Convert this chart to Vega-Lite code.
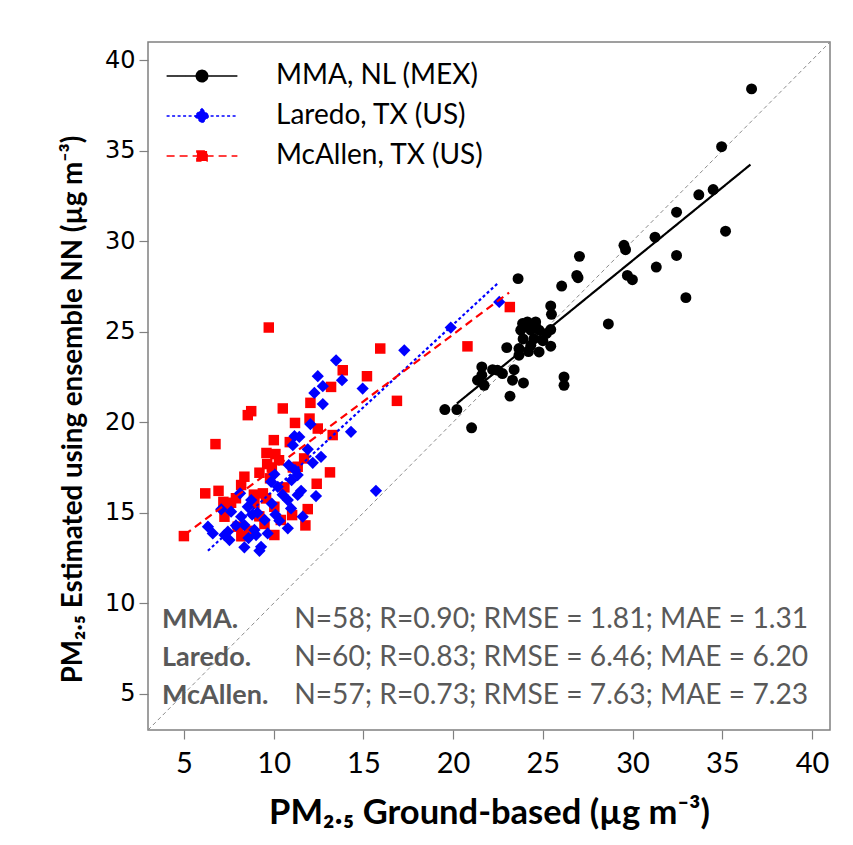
{
  "$schema": "https://vega.github.io/schema/vega-lite/v6.json",
  "width": 682,
  "height": 688,
  "autosize": "none",
  "padding": {"left": 148, "top": 42, "right": 23, "bottom": 115},
  "background": "white",
  "config": {
    "view": {"stroke": "#808080", "strokeWidth": 1.5},
    "font": "Lato",
    "axis": {"grid": false, "domain": false, "tickColor": "#808080", "tickSize": 9, "tickWidth": 1.2, "labelColor": "#000000", "titleColor": "#000000", "labelFontWeight": "normal"}
  },
  "datasets": {
    "points": [
      {"site": "MMA, NL (MEX)", "ground": 36.63, "est": 38.41},
      {"site": "MMA, NL (MEX)", "ground": 34.96, "est": 35.22},
      {"site": "MMA, NL (MEX)", "ground": 33.69, "est": 32.56},
      {"site": "MMA, NL (MEX)", "ground": 34.49, "est": 32.85},
      {"site": "MMA, NL (MEX)", "ground": 32.45, "est": 31.60},
      {"site": "MMA, NL (MEX)", "ground": 35.18, "est": 30.55},
      {"site": "MMA, NL (MEX)", "ground": 31.25, "est": 30.22},
      {"site": "MMA, NL (MEX)", "ground": 29.52, "est": 29.77},
      {"site": "MMA, NL (MEX)", "ground": 29.61, "est": 29.53},
      {"site": "MMA, NL (MEX)", "ground": 32.45, "est": 29.21},
      {"site": "MMA, NL (MEX)", "ground": 31.32, "est": 28.57},
      {"site": "MMA, NL (MEX)", "ground": 29.71, "est": 28.11},
      {"site": "MMA, NL (MEX)", "ground": 29.99, "est": 27.87},
      {"site": "MMA, NL (MEX)", "ground": 32.97, "est": 26.88},
      {"site": "MMA, NL (MEX)", "ground": 27.04, "est": 29.16},
      {"site": "MMA, NL (MEX)", "ground": 26.89, "est": 28.11},
      {"site": "MMA, NL (MEX)", "ground": 26.96, "est": 27.98},
      {"site": "MMA, NL (MEX)", "ground": 26.05, "est": 27.52},
      {"site": "MMA, NL (MEX)", "ground": 23.62, "est": 27.93},
      {"site": "MMA, NL (MEX)", "ground": 28.65, "est": 25.43},
      {"site": "MMA, NL (MEX)", "ground": 25.44, "est": 26.42},
      {"site": "MMA, NL (MEX)", "ground": 25.48, "est": 25.96},
      {"site": "MMA, NL (MEX)", "ground": 23.87, "est": 25.45},
      {"site": "MMA, NL (MEX)", "ground": 24.14, "est": 25.54},
      {"site": "MMA, NL (MEX)", "ground": 24.60, "est": 25.54},
      {"site": "MMA, NL (MEX)", "ground": 23.77, "est": 25.08},
      {"site": "MMA, NL (MEX)", "ground": 24.33, "est": 25.08},
      {"site": "MMA, NL (MEX)", "ground": 24.79, "est": 25.08},
      {"site": "MMA, NL (MEX)", "ground": 25.44, "est": 25.12},
      {"site": "MMA, NL (MEX)", "ground": 22.99, "est": 24.12},
      {"site": "MMA, NL (MEX)", "ground": 23.67, "est": 24.07},
      {"site": "MMA, NL (MEX)", "ground": 24.33, "est": 24.25},
      {"site": "MMA, NL (MEX)", "ground": 24.79, "est": 23.88},
      {"site": "MMA, NL (MEX)", "ground": 25.44, "est": 24.20},
      {"site": "MMA, NL (MEX)", "ground": 23.67, "est": 23.70},
      {"site": "MMA, NL (MEX)", "ground": 22.47, "est": 22.87},
      {"site": "MMA, NL (MEX)", "ground": 22.75, "est": 22.69},
      {"site": "MMA, NL (MEX)", "ground": 21.60, "est": 23.05},
      {"site": "MMA, NL (MEX)", "ground": 21.36, "est": 22.32},
      {"site": "MMA, NL (MEX)", "ground": 21.73, "est": 22.04},
      {"site": "MMA, NL (MEX)", "ground": 23.31, "est": 22.32},
      {"site": "MMA, NL (MEX)", "ground": 23.92, "est": 22.17},
      {"site": "MMA, NL (MEX)", "ground": 23.17, "est": 21.44},
      {"site": "MMA, NL (MEX)", "ground": 21.60, "est": 22.60},
      {"site": "MMA, NL (MEX)", "ground": 26.18, "est": 22.50},
      {"site": "MMA, NL (MEX)", "ground": 26.18, "est": 22.04},
      {"site": "MMA, NL (MEX)", "ground": 19.54, "est": 20.70},
      {"site": "MMA, NL (MEX)", "ground": 20.21, "est": 20.70},
      {"site": "MMA, NL (MEX)", "ground": 21.03, "est": 19.69},
      {"site": "MMA, NL (MEX)", "ground": 24.0, "est": 25.3},
      {"site": "MMA, NL (MEX)", "ground": 24.5, "est": 24.6},
      {"site": "MMA, NL (MEX)", "ground": 25.0, "est": 24.5},
      {"site": "MMA, NL (MEX)", "ground": 22.2, "est": 22.9},
      {"site": "MMA, NL (MEX)", "ground": 23.9, "est": 24.6},
      {"site": "MMA, NL (MEX)", "ground": 24.2, "est": 23.9},
      {"site": "MMA, NL (MEX)", "ground": 25.2, "est": 24.9},
      {"site": "MMA, NL (MEX)", "ground": 24.6, "est": 25.3},
      {"site": "MMA, NL (MEX)", "ground": 23.4, "est": 22.9},
      {"site": "McAllen, TX (US)", "ground": 23.16, "est": 26.36},
      {"site": "McAllen, TX (US)", "ground": 20.80, "est": 24.19},
      {"site": "McAllen, TX (US)", "ground": 15.94, "est": 24.07},
      {"site": "McAllen, TX (US)", "ground": 9.73, "est": 25.23},
      {"site": "McAllen, TX (US)", "ground": 13.85, "est": 22.87},
      {"site": "McAllen, TX (US)", "ground": 15.20, "est": 22.54},
      {"site": "McAllen, TX (US)", "ground": 13.20, "est": 21.95},
      {"site": "McAllen, TX (US)", "ground": 16.87, "est": 21.18},
      {"site": "McAllen, TX (US)", "ground": 12.05, "est": 21.07},
      {"site": "McAllen, TX (US)", "ground": 10.51, "est": 20.76},
      {"site": "McAllen, TX (US)", "ground": 8.75, "est": 20.61},
      {"site": "McAllen, TX (US)", "ground": 8.56, "est": 20.39},
      {"site": "McAllen, TX (US)", "ground": 11.19, "est": 19.96},
      {"site": "McAllen, TX (US)", "ground": 12.46, "est": 19.65},
      {"site": "McAllen, TX (US)", "ground": 13.29, "est": 19.29},
      {"site": "McAllen, TX (US)", "ground": 10.01, "est": 19.01},
      {"site": "McAllen, TX (US)", "ground": 6.76, "est": 18.79},
      {"site": "McAllen, TX (US)", "ground": 10.10, "est": 18.24},
      {"site": "McAllen, TX (US)", "ground": 9.64, "est": 17.69},
      {"site": "McAllen, TX (US)", "ground": 9.21, "est": 17.21},
      {"site": "McAllen, TX (US)", "ground": 11.34, "est": 17.54},
      {"site": "McAllen, TX (US)", "ground": 13.14, "est": 17.23},
      {"site": "McAllen, TX (US)", "ground": 8.37, "est": 16.99},
      {"site": "McAllen, TX (US)", "ground": 8.19, "est": 16.53},
      {"site": "McAllen, TX (US)", "ground": 6.19, "est": 16.07},
      {"site": "McAllen, TX (US)", "ground": 6.93, "est": 16.21},
      {"site": "McAllen, TX (US)", "ground": 9.40, "est": 16.07},
      {"site": "McAllen, TX (US)", "ground": 9.58, "est": 15.79},
      {"site": "McAllen, TX (US)", "ground": 7.63, "est": 15.55},
      {"site": "McAllen, TX (US)", "ground": 7.45, "est": 15.15},
      {"site": "McAllen, TX (US)", "ground": 8.93, "est": 15.52},
      {"site": "McAllen, TX (US)", "ground": 10.04, "est": 15.33},
      {"site": "McAllen, TX (US)", "ground": 7.26, "est": 14.78},
      {"site": "McAllen, TX (US)", "ground": 8.00, "est": 14.23},
      {"site": "McAllen, TX (US)", "ground": 9.49, "est": 14.38},
      {"site": "McAllen, TX (US)", "ground": 11.03, "est": 14.87},
      {"site": "McAllen, TX (US)", "ground": 11.77, "est": 14.30},
      {"site": "McAllen, TX (US)", "ground": 10.04, "est": 13.77},
      {"site": "McAllen, TX (US)", "ground": 5.00, "est": 13.71},
      {"site": "McAllen, TX (US)", "ground": 11.07, "est": 17.50},
      {"site": "McAllen, TX (US)", "ground": 9.9, "est": 17.5},
      {"site": "McAllen, TX (US)", "ground": 10.6, "est": 16.4},
      {"site": "McAllen, TX (US)", "ground": 8.9, "est": 16.0},
      {"site": "McAllen, TX (US)", "ground": 11.9, "est": 15.2},
      {"site": "McAllen, TX (US)", "ground": 7.9, "est": 15.8},
      {"site": "McAllen, TX (US)", "ground": 9.2, "est": 14.8},
      {"site": "McAllen, TX (US)", "ground": 10.4, "est": 14.6},
      {"site": "McAllen, TX (US)", "ground": 12.4, "est": 16.6},
      {"site": "McAllen, TX (US)", "ground": 8.6, "est": 14.0},
      {"site": "McAllen, TX (US)", "ground": 10.9, "est": 18.9},
      {"site": "McAllen, TX (US)", "ground": 11.7, "est": 18.0},
      {"site": "McAllen, TX (US)", "ground": 9.8, "est": 16.9},
      {"site": "McAllen, TX (US)", "ground": 7.2, "est": 15.6},
      {"site": "McAllen, TX (US)", "ground": 12.0, "est": 20.2},
      {"site": "McAllen, TX (US)", "ground": 10.3, "est": 17.9},
      {"site": "McAllen, TX (US)", "ground": 8.2, "est": 13.7},
      {"site": "McAllen, TX (US)", "ground": 9.6, "est": 18.3},
      {"site": "Laredo, TX (US)", "ground": 22.57, "est": 26.64},
      {"site": "Laredo, TX (US)", "ground": 19.87, "est": 25.23},
      {"site": "Laredo, TX (US)", "ground": 17.28, "est": 23.97},
      {"site": "Laredo, TX (US)", "ground": 13.48, "est": 23.42},
      {"site": "Laredo, TX (US)", "ground": 12.46, "est": 22.54},
      {"site": "Laredo, TX (US)", "ground": 13.81, "est": 22.32},
      {"site": "Laredo, TX (US)", "ground": 12.74, "est": 21.99},
      {"site": "Laredo, TX (US)", "ground": 12.27, "est": 21.62},
      {"site": "Laredo, TX (US)", "ground": 14.96, "est": 21.86},
      {"site": "Laredo, TX (US)", "ground": 12.74, "est": 21.00},
      {"site": "Laredo, TX (US)", "ground": 14.31, "est": 19.47},
      {"site": "Laredo, TX (US)", "ground": 12.05, "est": 19.89},
      {"site": "Laredo, TX (US)", "ground": 11.16, "est": 19.23},
      {"site": "Laredo, TX (US)", "ground": 11.43, "est": 19.19},
      {"site": "Laredo, TX (US)", "ground": 11.07, "est": 18.73},
      {"site": "Laredo, TX (US)", "ground": 11.90, "est": 18.50},
      {"site": "Laredo, TX (US)", "ground": 12.64, "est": 18.09},
      {"site": "Laredo, TX (US)", "ground": 12.18, "est": 17.76},
      {"site": "Laredo, TX (US)", "ground": 10.84, "est": 17.63},
      {"site": "Laredo, TX (US)", "ground": 11.19, "est": 17.36},
      {"site": "Laredo, TX (US)", "ground": 11.34, "est": 17.08},
      {"site": "Laredo, TX (US)", "ground": 10.04, "est": 17.13},
      {"site": "Laredo, TX (US)", "ground": 9.86, "est": 16.71},
      {"site": "Laredo, TX (US)", "ground": 10.23, "est": 16.43},
      {"site": "Laredo, TX (US)", "ground": 11.53, "est": 16.21},
      {"site": "Laredo, TX (US)", "ground": 11.34, "est": 15.98},
      {"site": "Laredo, TX (US)", "ground": 12.36, "est": 15.92},
      {"site": "Laredo, TX (US)", "ground": 15.70, "est": 16.21},
      {"site": "Laredo, TX (US)", "ground": 10.79, "est": 15.70},
      {"site": "Laredo, TX (US)", "ground": 10.97, "est": 15.24},
      {"site": "Laredo, TX (US)", "ground": 8.13, "est": 16.07},
      {"site": "Laredo, TX (US)", "ground": 8.75, "est": 15.70},
      {"site": "Laredo, TX (US)", "ground": 8.56, "est": 15.33},
      {"site": "Laredo, TX (US)", "ground": 7.08, "est": 15.19},
      {"site": "Laredo, TX (US)", "ground": 7.63, "est": 15.06},
      {"site": "Laredo, TX (US)", "ground": 8.19, "est": 14.78},
      {"site": "Laredo, TX (US)", "ground": 11.62, "est": 14.78},
      {"site": "Laredo, TX (US)", "ground": 10.32, "est": 14.56},
      {"site": "Laredo, TX (US)", "ground": 10.79, "est": 14.14},
      {"site": "Laredo, TX (US)", "ground": 8.37, "est": 14.32},
      {"site": "Laredo, TX (US)", "ground": 8.93, "est": 14.05},
      {"site": "Laredo, TX (US)", "ground": 6.34, "est": 14.23},
      {"site": "Laredo, TX (US)", "ground": 6.61, "est": 13.86},
      {"site": "Laredo, TX (US)", "ground": 7.45, "est": 13.95},
      {"site": "Laredo, TX (US)", "ground": 7.54, "est": 13.49},
      {"site": "Laredo, TX (US)", "ground": 9.02, "est": 13.77},
      {"site": "Laredo, TX (US)", "ground": 9.67, "est": 13.86},
      {"site": "Laredo, TX (US)", "ground": 8.37, "est": 13.09},
      {"site": "Laredo, TX (US)", "ground": 9.30, "est": 13.12},
      {"site": "Laredo, TX (US)", "ground": 9.21, "est": 12.90},
      {"site": "Laredo, TX (US)", "ground": 7.26, "est": 13.77},
      {"site": "Laredo, TX (US)", "ground": 9.5, "est": 14.6},
      {"site": "Laredo, TX (US)", "ground": 8.8, "est": 14.9},
      {"site": "Laredo, TX (US)", "ground": 9.9, "est": 15.5},
      {"site": "Laredo, TX (US)", "ground": 10.5, "est": 16.0},
      {"site": "Laredo, TX (US)", "ground": 9.1, "est": 15.0},
      {"site": "Laredo, TX (US)", "ground": 7.9, "est": 14.3},
      {"site": "Laredo, TX (US)", "ground": 10.1, "est": 14.9},
      {"site": "Laredo, TX (US)", "ground": 11.0, "est": 16.8},
      {"site": "Laredo, TX (US)", "ground": 8.6, "est": 13.6}
    ],
    "fits": [
      {"site": "MMA, NL (MEX)", "ground": 20.21, "est": 21.03},
      {"site": "MMA, NL (MEX)", "ground": 36.57, "est": 34.23},
      {"site": "Laredo, TX (US)", "ground": 6.34, "est": 12.9},
      {"site": "Laredo, TX (US)", "ground": 22.51, "est": 27.69},
      {"site": "McAllen, TX (US)", "ground": 5.03, "est": 13.77},
      {"site": "McAllen, TX (US)", "ground": 23.12, "est": 27.16}
    ],
    "diag": [{"ground": 3, "est": 3}, {"ground": 41, "est": 41}],
    "stats": [
      {"name": "MMA.", "stats": "N=58; R=0.90; RMSE = 1.81; MAE = 1.31", "row": 1},
      {"name": "Laredo.", "stats": "N=60; R=0.83; RMSE = 6.46; MAE = 6.20", "row": 2},
      {"name": "McAllen.", "stats": "N=57; R=0.73; RMSE = 7.63; MAE = 7.23", "row": 3}
    ]
  },
  "layer": [
    {
      "data": {"name": "diag"},
      "mark": {"type": "line", "color": "#8c8c8c", "strokeWidth": 1, "strokeDash": [4, 3], "clip": true},
      "encoding": {
        "x": {"field": "ground", "type": "quantitative", "scale": {"domain": [3, 41], "nice": false, "zero": false},
          "axis": {"values": [5, 10, 15, 20, 25, 30, 35, 40], "title": "PM₂.₅ Ground-based (µg m⁻³)", "labelFont": "Lato", "labelFontSize": 29, "labelPadding": 10, "titleFont": "Lato", "titleFontSize": 34.5, "titleFontWeight": "bold", "titlePadding": 18}},
        "y": {"field": "est", "type": "quantitative", "scale": {"domain": [3, 41], "nice": false, "zero": false},
          "axis": {"values": [5, 10, 15, 20, 25, 30, 35, 40], "title": "PM₂.₅  Estimated using ensemble NN (µg m⁻³)", "labelFont": "DejaVu Sans", "labelFontSize": 24, "labelPadding": 4, "titleFont": "Lato", "titleFontSize": 27.7, "titleFontWeight": "bold", "titlePadding": 17, "titleY": 367}}
      }
    },
    {
      "data": {"name": "stats"},
      "transform": [{"filter": "datum.row == 1"}],
      "mark": {"type": "text", "align": "left", "baseline": "middle", "font": "Lato", "fontWeight": "bold", "fontSize": 27, "fill": "#595959"},
      "encoding": {"x": {"datum": 3.78, "type": "quantitative"}, "y": {"datum": 9.08, "type": "quantitative"}, "text": {"field": "name", "type": "nominal"}}
    },
    {
      "data": {"name": "stats"},
      "transform": [{"filter": "datum.row == 2"}],
      "mark": {"type": "text", "align": "left", "baseline": "middle", "font": "Lato", "fontWeight": "bold", "fontSize": 27, "fill": "#595959"},
      "encoding": {"x": {"datum": 3.78, "type": "quantitative"}, "y": {"datum": 6.98, "type": "quantitative"}, "text": {"field": "name", "type": "nominal"}}
    },
    {
      "data": {"name": "stats"},
      "transform": [{"filter": "datum.row == 3"}],
      "mark": {"type": "text", "align": "left", "baseline": "middle", "font": "Lato", "fontWeight": "bold", "fontSize": 27, "fill": "#595959"},
      "encoding": {"x": {"datum": 3.78, "type": "quantitative"}, "y": {"datum": 4.88, "type": "quantitative"}, "text": {"field": "name", "type": "nominal"}}
    },
    {
      "data": {"name": "stats"},
      "transform": [{"filter": "datum.row == 1"}],
      "mark": {"type": "text", "align": "right", "baseline": "middle", "font": "Lato", "fontSize": 28.2, "fill": "#595959"},
      "encoding": {"x": {"datum": 39.78, "type": "quantitative"}, "y": {"datum": 9.08, "type": "quantitative"}, "text": {"field": "stats", "type": "nominal"}}
    },
    {
      "data": {"name": "stats"},
      "transform": [{"filter": "datum.row == 2"}],
      "mark": {"type": "text", "align": "right", "baseline": "middle", "font": "Lato", "fontSize": 28.2, "fill": "#595959"},
      "encoding": {"x": {"datum": 39.78, "type": "quantitative"}, "y": {"datum": 6.98, "type": "quantitative"}, "text": {"field": "stats", "type": "nominal"}}
    },
    {
      "data": {"name": "stats"},
      "transform": [{"filter": "datum.row == 3"}],
      "mark": {"type": "text", "align": "right", "baseline": "middle", "font": "Lato", "fontSize": 28.2, "fill": "#595959"},
      "encoding": {"x": {"datum": 39.78, "type": "quantitative"}, "y": {"datum": 4.88, "type": "quantitative"}, "text": {"field": "stats", "type": "nominal"}}
    },
    {
      "data": {"name": "points"},
      "transform": [{"filter": "datum.site == 'McAllen, TX (US)'"}],
      "mark": {"type": "point", "shape": "square", "filled": true, "opacity": 1, "size": 110},
      "encoding": {
        "x": {"field": "ground", "type": "quantitative"},
        "y": {"field": "est", "type": "quantitative"},
        "color": {"field": "site", "type": "nominal",
          "scale": {"domain": ["MMA, NL (MEX)", "Laredo, TX (US)", "McAllen, TX (US)"], "range": ["#000000", "#0000ff", "#ff0000"]}}}
    },
    {
      "data": {"name": "points"},
      "transform": [{"filter": "datum.site == 'Laredo, TX (US)'"}],
      "mark": {"type": "point", "shape": "diamond", "filled": true, "opacity": 1, "size": 150},
      "encoding": {
        "x": {"field": "ground", "type": "quantitative"},
        "y": {"field": "est", "type": "quantitative"},
        "color": {"field": "site", "type": "nominal"}}
    },
    {
      "data": {"name": "points"},
      "transform": [{"filter": "datum.site == 'MMA, NL (MEX)'"}],
      "mark": {"type": "point", "shape": "circle", "filled": true, "opacity": 1, "size": 120},
      "encoding": {
        "x": {"field": "ground", "type": "quantitative"},
        "y": {"field": "est", "type": "quantitative"},
        "color": {"field": "site", "type": "nominal"}}
    },
    {
      "data": {"name": "fits"},
      "mark": {"type": "line", "strokeWidth": 2.2},
      "encoding": {
        "x": {"field": "ground", "type": "quantitative"},
        "y": {"field": "est", "type": "quantitative"},
        "color": {"field": "site", "type": "nominal"},
        "strokeDash": {"field": "site", "type": "nominal",
          "scale": {"domain": ["MMA, NL (MEX)", "Laredo, TX (US)", "McAllen, TX (US)"], "range": [[1, 0], [3, 2.5], [8, 5]]}}
      }
    },
    {
      "data": {"name": "points"},
      "transform": [{"filter": "datum.ground > 100"}],
      "mark": {"type": "point", "filled": true, "opacity": 1},
      "encoding": {
        "x": {"field": "ground", "type": "quantitative"},
        "y": {"field": "est", "type": "quantitative"},
        "shape": {"field": "site", "type": "nominal",
          "scale": {"domain": ["MMA, NL (MEX)", "Laredo, TX (US)", "McAllen, TX (US)"],
            "range": ["M-5.9,0H5.9M-0.95,0C-0.95,-0.53,-0.53,-0.95,0,-0.95C0.53,-0.95,0.95,-0.53,0.95,0C0.95,0.53,0.53,0.95,0,0.95C-0.53,0.95,-0.95,0.53,-0.95,0Z", "M-5.9,0H5.9M0,-1.2L1.2,0L0,1.2L-1.2,0Z", "M-5.9,0H5.9M-0.85,-0.85H0.85V0.85H-0.85Z"]}},
        "color": {"field": "site", "type": "nominal",
          "legend": {"title": null, "orient": "none", "legendX": 40, "legendY": 20, "padding": 0, "symbolSize": 144, "labelFont": "Lato", "labelFontSize": 28, "labelColor": "#000000", "labelOffset": 60, "rowPadding": 12, "labelLimit": 400,
            "encode": {"symbols": {"update": {"stroke": {"scale": "color", "field": "value"}, "strokeWidth": {"value": 2}, "strokeDash": {"scale": "strokeDash", "field": "value"}, "opacity": {"value": 1}}}}}}
      }
    }
  ]
}
